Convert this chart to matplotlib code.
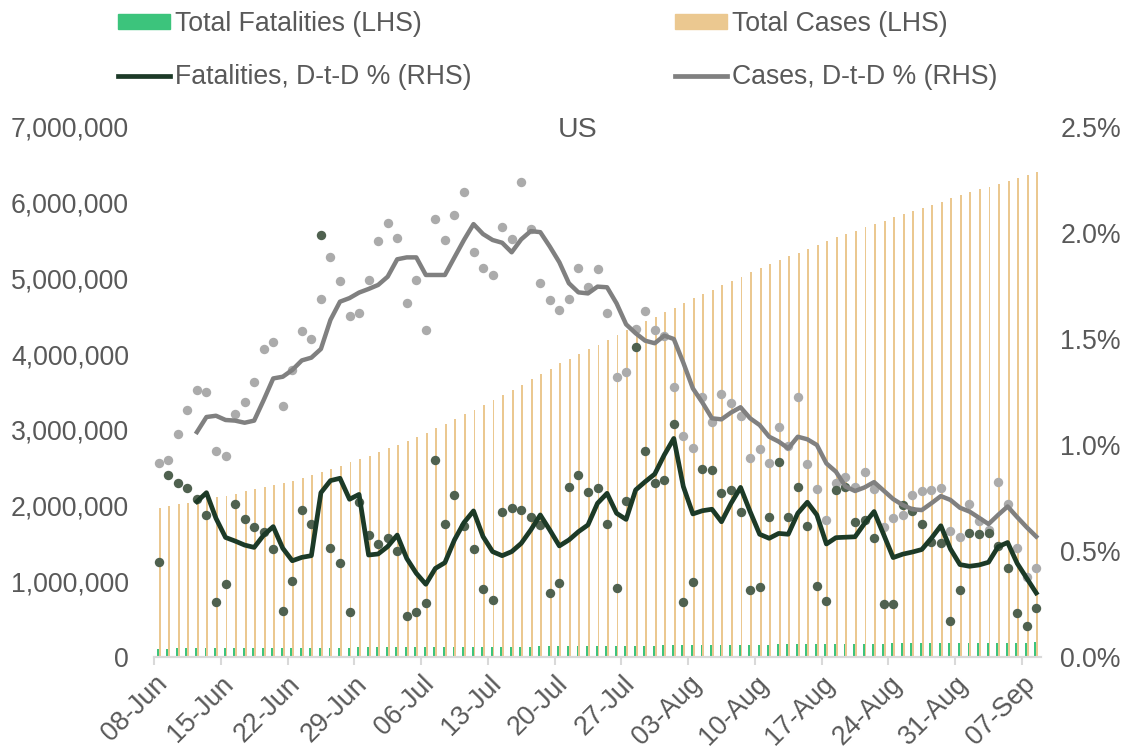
import numpy as np
import pandas as pd
import matplotlib

matplotlib.use("Agg")
import matplotlib.pyplot as plt
from matplotlib.patches import Patch
from matplotlib.lines import Line2D
from matplotlib.ticker import FuncFormatter, FixedLocator

GREEN, TAN, DARK, GREY = "#3CC47C", "#EBC890", "#1C3A27", "#808080"
DOT_DARK, DOT_GREY = "#4F614F", "#ABABAB"
TXT = "#595959"

plt.rcParams.update({
    "font.family": ["Liberation Sans", "DejaVu Sans"],
    "font.size": 19.2, "text.color": TXT,
    "xtick.color": TXT, "ytick.color": TXT,
})

dates = pd.date_range("2020-06-08", "2020-09-08", freq="D")

# cumulative totals, thousands
total_cases = [
    1972, 1994, 2016, 2038, 2061, 2084, 2107, 2131,
    2158, 2186, 2214, 2242, 2271, 2300, 2329,
    2367, 2406, 2446, 2486, 2527, 2569, 2611,
    2658, 2706, 2755, 2805, 2856, 2908, 2960,
    3019, 3080, 3141, 3204, 3268, 3334, 3400,
    3465, 3530, 3597, 3666, 3735, 3806, 3880,
    3940, 4001, 4063, 4126, 4190, 4255, 4320,
    4377, 4436, 4495, 4555, 4615, 4677, 4740,
    4795, 4851, 4907, 4964, 5022, 5080, 5140,
    5190, 5240, 5291, 5342, 5394, 5446, 5500,
    5543, 5586, 5630, 5674, 5718, 5763, 5810,
    5851, 5892, 5933, 5974, 6016, 6058, 6100,
    6138, 6176, 6214, 6252, 6291, 6330, 6370,
    6400,
]
total_deaths = [
    111, 112, 113, 113.5, 114, 115, 115.7, 116.5,
    117.2, 117.9, 118.6, 119.2, 119.8, 120.4, 121,
    121.8, 122.5, 123.2, 123.9, 124.6, 125.3, 126,
    126.7, 127.4, 128.1, 128.7, 129.3, 129.9, 130.5,
    131.1, 131.7, 132.3, 132.9, 133.6, 134.3, 135,
    135.8, 136.6, 137.4, 138.2, 139, 139.8, 140.5,
    141.5, 142.5, 143.5, 144.5, 145.5, 146.5, 147.5,
    148.7, 149.9, 151.1, 152.3, 153.5, 154.7, 156,
    157.2, 158.4, 159.5, 160.6, 161.7, 162.8, 164,
    165, 166.1, 167.2, 168.3, 169.4, 170.4, 171.5,
    172.5, 173.5, 174.5, 175.5, 176.5, 177.5, 178.5,
    179.4, 180.3, 181.2, 182.2, 183.1, 184, 185,
    185.8, 186.7, 187.5, 188.3, 189.2, 190.1, 191,
    191.8,
]

# day-to-day % change (dots)
cases_dod = [
    0.914, 0.931, 1.053, 1.165, 1.258, 1.250, 0.970, 0.948, 1.146, 1.204,
    1.297, 1.453, 1.484, 1.186, 1.354, 1.539, 1.500, 1.690, 1.885, 1.774,
    1.608, 1.624, 1.777, 1.961, 2.049, 1.978, 1.668, 1.780, 1.544, 2.064,
    1.967, 2.085, 2.192, 1.910, 1.833, 1.800, 2.030, 1.973, 2.239, 2.020,
    1.766, 1.684, 1.635, 1.687, 1.836, 1.745, 1.832, 1.621, 1.322, 1.346,
    1.549, 1.632, 1.544, 1.516, 1.275, 1.041, 0.984, 1.228, 1.110, 1.242,
    1.197, 1.137, 0.940, 0.980, 0.917, 1.087, 0.995, 1.228, 0.909, 0.791,
    0.646, 0.822, 0.851, 0.804, 0.873, 0.791, 0.615, 0.657, 0.670, 0.764,
    0.785, 0.788, 0.796, 0.596, 0.568, 0.720, 0.643, 0.599, 0.827, 0.720,
    0.513, 0.379, 0.418,
]
deaths_dod = [
    0.450, 0.860, 0.822, 0.796, 0.745, 0.668, 0.261, 0.346, 0.723, 0.651,
    0.612, 0.591, 0.509, 0.215, 0.357, 0.692, 0.626, 1.992, 0.513, 0.445,
    0.211, 0.730, 0.575, 0.533, 0.560, 0.500, 0.195, 0.214, 0.253, 0.931,
    0.629, 0.766, 0.618, 0.509, 0.322, 0.270, 0.684, 0.701, 0.692, 0.662,
    0.621, 0.300, 0.351, 0.804, 0.860, 0.780, 0.796, 0.626, 0.327, 0.736,
    1.461, 0.973, 0.819, 0.835, 1.101, 0.261, 0.355, 0.887, 0.884, 0.775,
    0.786, 0.682, 0.318, 0.329, 0.662, 0.920, 0.662, 0.802, 0.619, 0.336,
    0.266, 0.788, 0.803, 0.638, 0.646, 0.563, 0.251, 0.251, 0.717, 0.690,
    0.626, 0.542, 0.536, 0.170, 0.315, 0.583, 0.580, 0.583, 0.524, 0.422,
    0.207, 0.145, 0.232,
]

# smoothed lines, starting 12-Jun
cases_line = [
    1.061, 1.132, 1.138, 1.118, 1.115, 1.105, 1.115, 1.212, 1.314, 1.322,
    1.354, 1.399, 1.412, 1.453, 1.590, 1.676, 1.693, 1.719, 1.736, 1.755,
    1.794, 1.876, 1.885, 1.885, 1.802, 1.802, 1.802, 1.885, 1.967, 2.042,
    1.995, 1.967, 1.954, 1.909, 1.970, 2.009, 2.004, 1.936, 1.862, 1.763,
    1.720, 1.715, 1.747, 1.744, 1.668, 1.569, 1.527, 1.492, 1.480, 1.516,
    1.500, 1.388, 1.267, 1.200, 1.126, 1.121, 1.153, 1.178, 1.126, 1.094,
    1.039, 1.016, 0.984, 1.039, 1.027, 1.000, 0.913, 0.874, 0.804, 0.783,
    0.800, 0.825, 0.785, 0.745, 0.717, 0.697, 0.693, 0.725, 0.759, 0.741,
    0.704, 0.686, 0.657, 0.627, 0.670, 0.710, 0.660, 0.612, 0.568,
]
deaths_line = [
    0.733, 0.775, 0.654, 0.564, 0.547, 0.528, 0.517, 0.575, 0.615, 0.513,
    0.454, 0.470, 0.478, 0.775, 0.832, 0.843, 0.744, 0.767, 0.481, 0.486,
    0.521, 0.575, 0.465, 0.395, 0.343, 0.418, 0.445, 0.552, 0.634, 0.689,
    0.568, 0.497, 0.478, 0.497, 0.536, 0.599, 0.670, 0.599, 0.524, 0.552,
    0.591, 0.623, 0.725, 0.772, 0.678, 0.649, 0.788, 0.827, 0.863, 0.953,
    1.031, 0.804, 0.675, 0.690, 0.697, 0.638, 0.725, 0.800, 0.686, 0.579,
    0.560, 0.583, 0.579, 0.678, 0.730, 0.670, 0.533, 0.563, 0.565, 0.567,
    0.630, 0.686, 0.578, 0.469, 0.485, 0.495, 0.507, 0.560, 0.619, 0.510,
    0.436, 0.428, 0.434, 0.447, 0.520, 0.540, 0.442, 0.372, 0.302,
]

x = np.arange(len(dates))
xl = x[len(x) - len(cases_line):]

fig = plt.figure(figsize=(11.31, 7.48), dpi=100)
ax = fig.add_axes([154 / 1131, 1 - 657 / 748, (1041 - 154) / 1131, 530 / 748])
ax2 = ax.twinx()

ax.bar(x - 0.1, np.array(total_deaths) * 1000, width=0.2, color=GREEN, lw=0)
ax.bar(x + 0.1, np.array(total_cases) * 1000, width=0.2, color=TAN, lw=0)
ax.set_ylim(0, 7e6)
ax.set_yticks(np.arange(0, 7e6 + 1, 1e6))
ax.yaxis.set_major_formatter(FuncFormatter(lambda v, p: f"{v:,.0f}"))

ax2.scatter(x, np.array(cases_dod) / 100, s=46, color=DOT_GREY, lw=0, zorder=2)
ax2.scatter(x, np.array(deaths_dod) / 100, s=46, color=DOT_DARK, lw=0, zorder=2)
ax2.plot(xl, np.array(cases_line) / 100, color=GREY, lw=3.2, zorder=3)
ax2.plot(xl, np.array(deaths_line) / 100, color=DARK, lw=3.4, zorder=4)
ax2.set_ylim(0, 0.025)
ax2.set_yticks(np.arange(0, 0.0251, 0.005))
ax2.yaxis.set_major_formatter(FuncFormatter(lambda v, p: f"{v * 100:.1f}%"))

ax.set_xlim(-0.5, len(x) - 0.5)
ticks = np.arange(-0.5, len(x), 7)
ax.xaxis.set_major_locator(FixedLocator(ticks))
ax.set_xticklabels([dates[int(t + 0.5)].strftime("%d-%b") for t in ticks],
                   rotation=45, ha="right", va="top", rotation_mode="anchor")

for a in (ax, ax2):
    for s in ("top", "left", "right"):
        a.spines[s].set_visible(False)
    a.spines["bottom"].set_color("#D9D9D9")
    a.spines["bottom"].set_linewidth(1.5)
ax.tick_params(axis="x", length=6, width=1.5, color="#D9D9D9", pad=4)
ax.tick_params(axis="y", length=0, pad=18)
ax2.tick_params(axis="y", length=0, pad=14)

fig.text(578 / 1131, 1 - 130 / 748, "US", ha="center", va="center", fontsize=20.5)

handles = [
    Patch(color=GREEN, label="Total Fatalities (LHS)"),
    Line2D([0], [0], color=DARK, lw=3.4, label="Fatalities, D-t-D % (RHS)"),
    Patch(color=TAN, label="Total Cases (LHS)"),
    Line2D([0], [0], color=GREY, lw=3.4, label="Cases, D-t-D % (RHS)"),
]
fig.legend(handles=handles, ncol=2, loc="upper left", frameon=False,
           bbox_to_anchor=(118 / 1131, 1 - 11 / 748), borderaxespad=0, borderpad=0,
           handlelength=1.95, handleheight=0.53, handletextpad=0.2,
           columnspacing=7.6, labelspacing=1.02)

fig.savefig("out.png", dpi=100)
